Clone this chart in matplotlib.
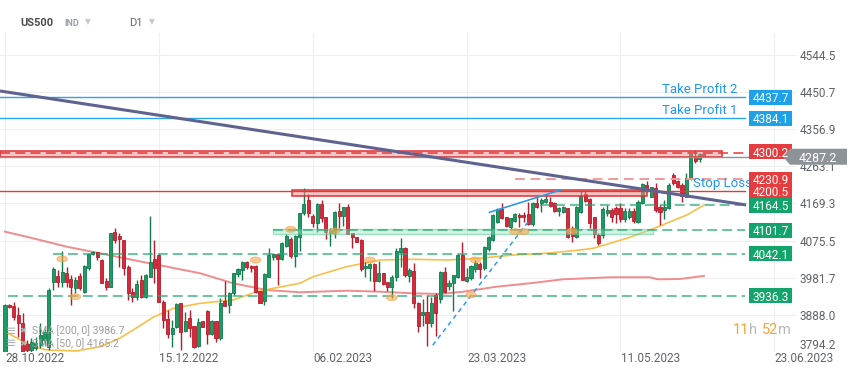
import numpy as np
import matplotlib
matplotlib.use("Agg")
import matplotlib.pyplot as plt
from matplotlib import patches, transforms

plt.rcParams['font.family'] = ['Roboto', 'DejaVu Sans']

# daily candles US500, 28.10.2022 -> early June 2023
opens = [3794.8, 3913.3, 3910.8, 3888.1, 3868.7, 3815.0, 3800.0, 3804.9, 3812.5, 3825.1,
         3807.4, 3972.1, 3986.5, 3972.1, 3993.3, 3978.1, 3955.4, 3986.5, 3946.9, 4005.9,
         4041.2, 4046.2, 4026.8, 3974.6, 3959.5, 4096.6, 4087.3, 4077.2, 4009.9, 3946.9,
         3934.3, 3976.4, 3932.8, 3984.7, 4028.6, 4039.4, 3921.7, 3877.3, 3840.2, 3857.1,
         3917.6, 3848.5, 3879.8, 3860.4, 3810.7, 3873.0, 3898.2, 3840.2, 3873.0, 3830.9,
         3924.2, 3913.3, 3942.9, 3990.7, 4001.6, 4022.5, 4011.7, 4011.7, 3948.6, 3924.2,
         3984.7, 4035.1, 4041.9, 4029.3, 4062.9, 4079.0, 4036.9, 4084.1, 4144.6, 4178.1,
         4137.8, 4120.9, 4168.0, 4134.5, 4095.6, 4095.6, 4150.4, 4137.8, 4159.7, 4094.1,
         4084.1, 4077.2, 4005.9, 4005.9, 4016.7, 3974.6, 3993.3, 3970.6, 3958.0, 3984.7,
         4047.8, 4056.3, 3986.5, 3999.8, 3917.6, 3888.1, 3896.4, 3868.7, 3938.6, 3927.7,
         3997.3, 3961.2, 3968.1, 3984.7, 4039.4, 3974.6, 3980.6, 4003.4, 4016.7, 4005.9,
         4053.8, 4077.2, 4123.4, 4154.6, 4134.5, 4110.8, 4125.9, 4140.3, 4140.3, 4142.0,
         4116.8, 4169.8, 4171.3, 4173.0, 4173.8, 4171.3, 4151.1, 4148.6, 4157.2, 4106.7,
         4084.1, 4148.6, 4193.2, 4179.8, 4134.5, 4089.8, 4089.8, 4146.1, 4152.9, 4157.2,
         4157.2, 4129.4, 4134.5, 4151.1, 4123.4, 4169.8, 4215.9, 4186.4, 4207.6, 4161.2,
         4152.9, 4157.2, 4241.1, 4226.8, 4215.9, 4186.4, 4230.3, 4287.3, 4280.7, 4294.1]
highs = [3915.9, 3915.9, 3921.7, 3909.1, 3894.0, 3825.0, 3830.0, 3833.4, 3867.2, 3852.0,
         3955.4, 4009.2, 4001.6, 4049.5, 4008.4, 3989.0, 3984.7, 3993.3, 4014.2, 4043.7,
         4049.5, 4047.8, 4028.6, 3980.6, 4095.6, 4108.3, 4094.9, 4078.0, 4014.2, 3956.2,
         3976.4, 3989.0, 3991.5, 4137.8, 4077.2, 4041.9, 3925.9, 3900.7, 3875.5, 3919.2,
         3919.2, 3896.4, 3900.7, 3860.4, 3879.8, 3873.0, 3900.7, 3875.5, 3873.8, 3930.2,
         3973.9, 3946.9, 3994.8, 4007.4, 4025.0, 4025.0, 4014.2, 4014.2, 3948.6, 3993.3,
         4056.3, 4045.2, 4041.9, 4073.2, 4092.4, 4085.6, 4089.8, 4146.1, 4207.6, 4192.5,
         4142.8, 4169.8, 4178.1, 4136.0, 4106.7, 4151.1, 4169.8, 4161.2, 4168.0, 4095.6,
         4085.6, 4079.0, 4022.5, 4018.5, 4018.5, 4024.3, 3994.8, 3972.1, 3989.0, 4056.3,
         4081.5, 4060.4, 4005.9, 4018.5, 3921.7, 3927.7, 3938.6, 3934.3, 3944.4, 3999.8,
         4008.4, 3976.4, 3989.0, 4041.9, 4073.0, 4005.9, 4014.2, 4026.8, 4022.5, 4062.1,
         4087.3, 4142.0, 4158.7, 4169.8, 4136.0, 4133.5, 4146.1, 4144.6, 4147.1, 4173.8,
         4172.3, 4188.2, 4182.2, 4193.2, 4186.4, 4172.3, 4159.7, 4163.0, 4158.7, 4112.5,
         4163.0, 4203.3, 4203.3, 4182.2, 4136.0, 4094.1, 4161.2, 4165.5, 4157.2, 4163.0,
         4169.8, 4157.2, 4157.2, 4157.2, 4178.1, 4220.2, 4226.8, 4211.6, 4220.2, 4165.5,
         4178.1, 4221.7, 4245.4, 4228.5, 4220.2, 4245.4, 4297.4, 4304.2, 4295.8, 4295.8]
lows = [3790.0, 3905.0, 3875.5, 3833.4, 3790.0, 3790.0, 3795.0, 3799.9, 3804.2, 3812.5,
        3799.9, 3951.2, 3959.5, 3959.5, 3959.5, 3913.3, 3942.9, 3951.2, 3942.9, 4001.6,
        4039.4, 4026.8, 3968.1, 3951.2, 3957.9, 4068.9, 4009.9, 3989.0, 3925.9, 3921.7,
        3925.9, 3931.0, 3930.3, 3983.2, 3968.1, 3921.7, 3854.6, 3829.3, 3808.2, 3854.6,
        3799.9, 3846.0, 3833.4, 3804.2, 3808.2, 3858.6, 3815.0, 3837.7, 3820.8, 3825.1,
        3911.6, 3892.4, 3938.6, 3984.7, 3976.4, 4003.4, 3997.3, 3942.9, 3917.6, 3913.3,
        3983.2, 4026.8, 3963.8, 4026.8, 4060.4, 4031.1, 4008.4, 4050.3, 4140.3, 4134.5,
        4110.8, 4098.2, 4123.4, 4079.0, 4062.1, 4081.5, 4106.7, 4113.3, 4092.4, 4056.3,
        4071.4, 3999.8, 3984.7, 3974.6, 3949.4, 3972.1, 3963.8, 3949.4, 3930.2, 3974.6,
        4009.9, 3984.7, 3972.1, 3905.0, 3846.0, 3860.4, 3810.7, 3858.6, 3835.9, 3919.2,
        3942.9, 3951.2, 3899.0, 3982.2, 3976.4, 3972.1, 3976.4, 3997.3, 3980.6, 4001.6,
        4050.3, 4075.5, 4120.9, 4129.4, 4109.2, 4101.7, 4123.4, 4110.8, 4123.4, 4115.1,
        4113.3, 4157.2, 4148.6, 4171.3, 4161.2, 4148.6, 4137.8, 4146.1, 4081.5, 4072.9,
        4081.5, 4146.1, 4173.8, 4106.7, 4081.5, 4064.6, 4081.5, 4137.8, 4123.4, 4119.4,
        4123.4, 4123.4, 4129.4, 4120.9, 4120.9, 4168.0, 4199.0, 4184.9, 4148.6, 4115.1,
        4129.4, 4154.6, 4216.0, 4207.6, 4173.8, 4184.9, 4228.5, 4270.6, 4274.7, 4285.8]
closes = [3913.3, 3907.5, 3883.8, 3867.2, 3794.8, 3800.0, 3820.0, 3817.5, 3837.7, 3845.2,
          3951.2, 4003.4, 3972.1, 3997.3, 3972.1, 3959.5, 3976.4, 3955.4, 4011.7, 4041.9,
          4046.2, 4033.6, 3969.6, 3959.5, 4094.1, 4077.2, 4081.0, 4005.9, 3942.9, 3932.8,
          3966.3, 3934.3, 3989.0, 4022.5, 4005.9, 3921.7, 3875.5, 3840.2, 3854.6, 3915.9,
          3846.0, 3873.0, 3854.6, 3808.2, 3871.2, 3858.6, 3840.2, 3873.0, 3830.9, 3917.6,
          3911.6, 3942.9, 3993.3, 4003.4, 4022.5, 4008.4, 4005.9, 3946.9, 3919.2, 3990.7,
          4039.4, 4041.9, 4028.6, 4069.7, 4087.3, 4036.9, 4087.3, 4144.6, 4167.3, 4146.1,
          4120.9, 4168.0, 4131.9, 4098.2, 4102.4, 4148.6, 4137.8, 4159.7, 4092.4, 4085.6,
          4072.9, 4003.4, 4011.7, 4016.7, 3974.6, 3994.8, 3966.3, 3958.0, 3984.7, 4050.3,
          4056.3, 3989.0, 4001.6, 3917.6, 3861.2, 3895.7, 3868.7, 3917.6, 3892.4, 3997.3,
          3946.9, 3969.6, 3989.0, 4039.4, 3976.4, 3983.2, 4011.7, 4018.5, 4003.4, 4060.4,
          4085.6, 4140.3, 4155.4, 4132.0, 4112.5, 4132.0, 4142.8, 4134.5, 4134.5, 4117.6,
          4169.8, 4161.2, 4178.1, 4179.8, 4163.0, 4150.4, 4157.2, 4161.2, 4085.6, 4087.3,
          4159.7, 4188.2, 4176.3, 4119.4, 4092.4, 4070.4, 4154.6, 4152.9, 4134.5, 4142.8,
          4129.4, 4151.1, 4151.1, 4125.9, 4173.8, 4217.7, 4203.3, 4210.2, 4152.9, 4148.6,
          4161.2, 4215.9, 4220.2, 4211.6, 4188.2, 4232.8, 4294.1, 4277.2, 4294.1, 4287.2]

date_ticks = [0, 35, 70, 105, 140, 175]
date_labels = ["28.10.2022", "15.12.2022", "06.02.2023", "23.03.2023", "11.05.2023", "23.06.2023"]
price_ticks = [4544.5, 4450.7, 4356.9, 4263.1, 4169.3, 4075.5, 3981.7, 3888.0, 3794.2]

# moving averages, sampled along the drawn curves (bar index, price)
sma200_x = [0, 6.4, 14, 21.6, 29.1, 36.8, 44.4, 51.9, 59.5, 67.1, 77.7, 85.3, 92.8, 99,
            104.2, 111.9, 119.4, 126.9, 137.6, 146.7, 148.5, 153.5, 159]
sma200_y = [4098.2, 4081.5, 4060.4, 4043.7, 4026.8, 4010.0, 3993.3, 3968.1, 3951.2, 3945.4,
            3949.4, 3946.9, 3942.8, 3941.1, 3946.9, 3959.5, 3968.1, 3978.1, 3983.2, 3983.2,
            3978.1, 3978.9, 3986.7]
sma50_x = [0, 6.4, 9.5, 16.3, 21.6, 26, 29.1, 33.8, 38.3, 44.4, 51.9, 57.3, 61, 67.1, 70.1,
           77.7, 85.3, 92.9, 100.5, 108.1, 115.6, 123.2, 130.8, 133.8, 141.4, 146.7, 150.5,
           155.1, 159]
sma50_y = [3846.0, 3808.2, 3799.9, 3797.4, 3808.2, 3829.0, 3850.0, 3883.0, 3905.0, 3917.6,
           3926.0, 3946.9, 3955.4, 3968.1, 3984.7, 4009.9, 4026.8, 4028.6, 4026.8, 4031.1,
           4039.4, 4043.7, 4052.0, 4056.3, 4081.5, 4102.4, 4119.4, 4140.3, 4165.2]

take_profits = [4437.7, 4384.1]
tp_names = ["Take Profit 2", "Take Profit 1"]
resistance = 4300.2
last_price = 4287.2
sl_upper = 4230.9
stop_loss = 4200.5
supports = [4164.5, 4101.7, 4042.1, 3936.3]
support_from = [121.7, 61, 10.9, 0.7]

trend_x = [-1.14, 168.6]
trend_y = [4453.0, 4165.5]
dash_trend_x = [97.3, 119.5]
dash_trend_y = [3812.0, 4130.0]
up_trend_x = [110.2, 126.3]
up_trend_y = [4147.0, 4203.0]

touch_x = [13, 16, 57, 65, 75, 83, 88, 106, 107, 116, 118, 129]
touch_y = [4029.4, 3934.3, 4026.8, 4104.2, 4100.0, 4026.8, 3931.8, 3938.6, 4026.8,
           4098.2, 4098.2, 4099.5]

W, H = 859, 377
fig = plt.figure(figsize=(W / 100, H / 100), dpi=100)
fig.patch.set_facecolor('white')
ax = fig.add_axes([0, 25 / H, 1, 319 / H])
x0, x1 = -1.137, 194.27
y0, y1 = 3794.8, 4599.2
ax.set_xlim(x0, x1)
ax.set_ylim(y0, y1)
ax.axis('off')
PP = (y1 - y0) / 319.0          # price per pixel
line_end = 168.3
trans = transforms.blended_transform_factory(ax.transAxes, ax.transData)

# grid
for p in price_ticks:
    ax.plot([x0, 179.7], [p, p], color='#eeeeee', lw=0.8, zorder=0)
for t in date_ticks:
    ax.axvline(t, color='#eeeeee', lw=0.8, zorder=0)

# moving averages
ax.plot(sma200_x, sma200_y, color='#ef8c8c', lw=1.4, zorder=2)
ax.plot(sma50_x, sma50_y, color='#f7c04a', lw=1.2, zorder=2)

# candles
o = np.array(opens); h = np.array(highs); l = np.array(lows); c = np.array(closes)
bars = np.arange(len(c))
up = c >= o
body_col = np.where(up, '#1e9a64', '#d9283b')
edge_col = np.where(up, '#127a4c', '#b51d2c')
ax.vlines(bars, l, h, colors=edge_col, lw=1, zorder=3)
ax.bar(bars, np.maximum(np.abs(c - o), 2.5), bottom=np.minimum(o, c), width=0.7,
       color=body_col, edgecolor=edge_col, linewidth=0.6, zorder=3)

# zones
ax.add_patch(patches.Rectangle((x0, 4285.8), 163.1 - x0, 15.9, facecolor='#f08c8c', alpha=0.5,
                               edgecolor='none', zorder=4))
ax.add_patch(patches.Rectangle((x0, 4285.8), 163.1 - x0, 15.9, facecolor='none',
                               edgecolor='#e02f35', lw=1.1, zorder=4))
ax.add_patch(patches.Rectangle((65.2, 4189.4), 146 - 65.2, 13.9, facecolor='#f08c8c', alpha=0.5,
                               edgecolor='none', zorder=4))
ax.add_patch(patches.Rectangle((65.2, 4189.4), 146 - 65.2, 13.9, facecolor='none',
                               edgecolor='#e02f35', lw=1.1, zorder=4))
ax.add_patch(patches.Rectangle((61, 4091.6), 147.3 - 61, 12.6, facecolor='#9fe3c3', alpha=0.45,
                               edgecolor='#3cc48a', lw=1, zorder=4))

# levels
ax.plot([x0, 179.5], [last_price, last_price], color='#8c9296', lw=1, zorder=4)
ax.plot([x0, line_end], [stop_loss, stop_loss], color='#e53935', lw=1, zorder=4)
ax.plot([x0, line_end], [resistance - 3, resistance - 3], color='#e53935', lw=1.1,
        dashes=(6.5, 3.5), zorder=5)
ax.plot([116, line_end], [sl_upper, sl_upper], color='#f29a9a', lw=1.4, dashes=(5, 3), zorder=4)
for lvl, start in zip(supports, support_from):
    ax.plot([start, line_end], [lvl, lvl], color='#21a872', lw=1.1, dashes=(6.5, 3.3),
            alpha=0.85, zorder=4)
for tp in take_profits:
    ax.plot([x0, line_end], [tp, tp], color='#2aa5e8', lw=1, zorder=4)

# trend lines
ax.plot(trend_x, trend_y, color='#5f6390', lw=2.2, zorder=5, solid_capstyle='butt')
ax.plot(dash_trend_x, dash_trend_y, color='#2f9bf0', lw=1.1, dashes=(3, 2.5), zorder=5)
ax.plot(up_trend_x, up_trend_y, color='#2f9bf0', lw=1.2, zorder=5)

# touch markers
for tx, ty in zip(touch_x, touch_y):
    ax.add_patch(patches.Ellipse((tx, ty), 2.4, 6 * PP, facecolor='#f9a54a', alpha=0.6,
                                 edgecolor='#f39c3d', lw=0.6, zorder=6))

# annotations
blue = '#2196f3'
for tp, name in zip(take_profits, tp_names):
    ax.text(737 / W, tp + 4.5 * PP, name, transform=trans, ha='right', va='baseline',
            color=blue, fontsize=9.5, zorder=6)
ax.text(693 / W, stop_loss + 4 * PP, "Stop Loss", transform=trans, ha='left', va='baseline',
        color=blue, fontsize=9.5, zorder=6, clip_on=False)

# price axis labels
for p in price_ticks:
    va = 'bottom' if p < y0 + 5 else 'center_baseline'
    yy = y0 + 1 if p < y0 + 5 else p
    ax.text(800 / W, yy, f"{p:.1f}", transform=trans, ha='left', va=va, color='#5f6368',
            fontsize=8.5, zorder=5, clip_on=False)


def tag(price, color):
    ax.add_patch(patches.Rectangle((749 / W, price - 7.5 * PP), 43 / W, 15 * PP, transform=trans,
                                   facecolor=color, edgecolor='none', zorder=7, clip_on=False))
    ax.text(770.5 / W, price, f"{price:.1f}", transform=trans, ha='center',
            va='center_baseline', color='white', fontsize=8.5, zorder=8, clip_on=False)


for tp in take_profits:
    tag(tp, '#1da1e8')
tag(resistance, '#e53d3f')
tag(sl_upper, '#e53d3f')
tag(stop_loss, '#e53d3f')
for lvl in supports:
    tag(lvl, '#13a46c')

pts = [(783, 0), (790, -8), (847, -8), (847, 8), (790, 8)]
ax.add_patch(patches.Polygon([(px / W, last_price + dy * PP) for px, dy in pts], closed=True,
                             transform=trans, facecolor='#8d9396', edgecolor='none', zorder=7,
                             clip_on=False))
ax.text(818 / W, last_price, f"{last_price:.1f}", transform=trans, ha='center',
        va='center_baseline', color='white', fontsize=9, zorder=8, clip_on=False)

# date axis
for t, lab in zip(date_ticks, date_labels):
    ax.text(t + 0.1, y0 - 7 * PP, lab, ha='left', va='center', color='#5f6368', fontsize=8.5,
            clip_on=False)

# header
fig.text(20 / W, 1 - 23 / H, "US500", fontsize=8, fontweight='bold', color='#4a4a4a', va='center')
fig.text(64 / W, 1 - 23 / H, "IND", fontsize=6.5, fontweight='bold', color='#9aa0a6', va='center')
fig.text(85 / W, 1 - 22 / H, "▼", fontsize=5.5, color='#c8c8c8', va='center', family='DejaVu Sans')
fig.text(129 / W, 1 - 23 / H, "D1", fontsize=8, color='#666666', va='center')
fig.text(149 / W, 1 - 22 / H, "▼", fontsize=5.5, color='#c8c8c8', va='center', family='DejaVu Sans')

# indicator legend
for yy, name, val in [(331, "SMA [200, 0]", sma200_y[-1]), (343.5, "SMA [50, 0]", sma50_y[-1])]:
    fig.text(6 / W, 1 - yy / H, "≡", fontsize=9, color='#b0b0b0', va='center', family='DejaVu Sans')
    fig.text(19 / W, 1 - yy / H, "✖", fontsize=6, color='#b0b0b0', va='center', family='DejaVu Sans')
    fig.text(32 / W, 1 - yy / H, f"{name} {val:.1f}", fontsize=7.5, color='#9e9e9e', va='center')

# candle countdown
orange = '#f7a535'
for px, s, col in [(733, "11", orange), (749, "h", '#b8b8b8'), (762, "52", orange), (778, "m", '#b8b8b8')]:
    fig.text(px / W, 1 - 330 / H, s, fontsize=10.5, color=col, va='center')

fig.savefig("out.png", dpi=100, facecolor='white')
